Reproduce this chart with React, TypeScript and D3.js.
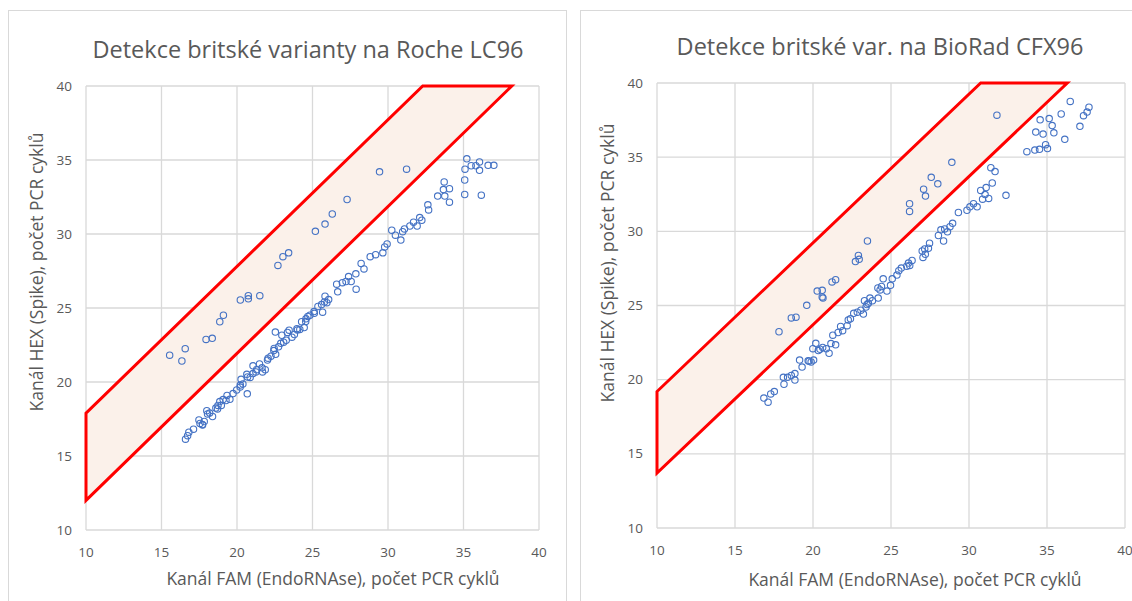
import React from "react";
import * as d3 from "d3";

// tick values shared by both charts
const xTicks = [10, 15, 20, 25, 30, 35, 40];
const yTicks = [10, 15, 20, 25, 30, 35, 40];

const xTitle = "Kanál FAM (EndoRNAse), počet PCR cyklů";
const yTitle = "Kanál HEX (Spike), počet PCR cyklů";

// Roche LC96: [FAM Ct, HEX Ct]
const rochePoints: [number, number][] = [
  [15.54, 21.81], [16.35, 21.42], [16.57, 22.25], [17.95, 22.88], [18.36, 22.95],
  [18.86, 24.07], [19.1, 24.51], [20.22, 25.54], [20.75, 25.83], [20.75, 25.62],
  [21.51, 25.83], [22.71, 27.88], [23.04, 28.47], [23.42, 28.73], [25.19, 30.18],
  [25.83, 30.67], [26.31, 31.35], [27.29, 32.33], [29.44, 34.2], [31.23, 34.38],
  [16.59, 16.14], [16.81, 16.61], [17.12, 16.81], [17.48, 17.44], [17.55, 17.2],
  [17.71, 17.12], [17.83, 17.33], [18.0, 18.06], [18.19, 17.9], [18.38, 17.67],
  [18.6, 18.24], [18.74, 18.42], [18.86, 18.68], [18.96, 18.42], [19.08, 18.81],
  [19.34, 19.09], [19.53, 18.83], [19.74, 19.22], [19.98, 19.46], [20.22, 19.79],
  [20.27, 20.18], [20.39, 19.87], [20.65, 20.52], [20.68, 19.2], [20.87, 20.31],
  [21.06, 21.09], [21.06, 20.57], [21.3, 20.83], [21.49, 21.22], [21.66, 20.96],
  [21.87, 20.83], [22.06, 21.61], [22.25, 21.74], [22.44, 22.12], [22.54, 23.37],
  [22.56, 21.87], [22.75, 22.38], [22.97, 23.16], [23.09, 22.69], [23.26, 22.82],
  [23.45, 23.5], [23.64, 23.03], [23.8, 23.21], [23.97, 23.6], [24.16, 23.55],
  [24.28, 24.07], [24.45, 23.68], [24.57, 24.27], [24.69, 24.43], [24.83, 24.51],
  [25.12, 24.64], [25.36, 25.1], [25.6, 25.23], [25.67, 24.72], [25.79, 25.41],
  [25.83, 25.8], [25.95, 25.36], [26.07, 25.57], [26.6, 26.61], [26.67, 26.09],
  [26.98, 26.71], [27.22, 26.79], [27.39, 27.12], [27.56, 26.79], [27.87, 27.31],
  [27.89, 26.27], [28.22, 28.01], [28.41, 27.64], [28.82, 28.47], [29.18, 28.6],
  [29.66, 28.73], [29.78, 29.12], [29.94, 29.33], [30.25, 30.26], [30.49, 29.92],
  [30.85, 29.59], [30.97, 30.16], [31.09, 30.34], [31.45, 30.54], [31.69, 30.8],
  [31.93, 30.54], [32.1, 31.11], [32.24, 30.93], [32.64, 31.97], [32.69, 31.63],
  [33.29, 32.56], [33.67, 33.0], [33.72, 33.52], [33.76, 32.56], [34.07, 33.06],
  [34.07, 32.15], [35.08, 33.65], [35.08, 32.67], [35.1, 34.38], [35.22, 35.08],
  [35.51, 34.61], [35.82, 34.61], [36.06, 34.87], [36.06, 34.3], [36.18, 32.62],
  [36.63, 34.64], [37.01, 34.64],
  [16.73, 16.37], [17.72, 17.1], [18.05, 17.84], [18.71, 18.18], [19.27, 18.75],
  [20.21, 19.66], [20.7, 20.34], [21.25, 20.68], [21.69, 20.68], [22.02, 21.48],
  [22.46, 22.27], [22.9, 22.61], [23.34, 23.35], [24.0, 23.52], [24.55, 24.08],
  [25.1, 24.76],
];

// BioRad CFX96: [FAM Ct, HEX Ct]
const bioradPoints: [number, number][] = [
  [17.82, 23.23], [18.61, 24.16], [18.91, 24.21], [19.6, 25.01], [20.27, 25.97],
  [20.59, 26.02], [20.59, 25.58], [20.64, 25.5], [21.22, 26.59], [21.45, 26.74],
  [22.72, 27.96], [22.91, 28.37], [22.96, 28.11], [23.49, 29.35], [26.19, 31.86],
  [26.19, 31.34], [27.09, 32.84], [27.21, 32.38], [27.58, 33.64], [28.0, 33.2],
  [28.9, 34.65], [31.79, 37.83],
  [16.85, 18.76], [17.12, 18.48], [17.29, 19.04], [17.52, 19.2], [18.1, 20.16],
  [18.14, 19.69], [18.37, 20.16], [18.61, 20.28], [18.84, 19.97], [18.84, 20.41],
  [19.14, 21.32], [19.3, 20.85], [19.69, 21.27], [19.88, 21.19], [20.04, 21.32],
  [19.99, 22.09], [20.18, 22.45], [20.34, 21.96], [20.62, 22.17], [20.85, 22.09],
  [21.03, 21.78], [21.15, 22.43], [21.27, 23.0], [21.45, 22.35], [21.61, 23.18],
  [21.77, 23.59], [22.19, 23.64], [22.26, 24.03], [22.61, 24.47], [22.84, 24.55],
  [23.07, 24.68], [23.23, 24.42], [23.3, 25.32], [23.46, 25.06], [23.65, 25.5],
  [23.81, 25.32], [24.18, 25.5], [24.16, 26.18], [24.39, 26.28], [24.5, 26.8],
  [24.74, 25.97], [24.97, 26.36], [25.08, 26.8], [25.38, 27.05], [25.66, 27.52],
  [26.01, 27.65], [26.12, 27.86], [26.35, 28.04], [27.05, 28.24], [27.0, 28.68],
  [27.16, 28.81], [27.4, 28.86], [27.47, 29.2], [28.04, 29.72], [28.2, 30.1],
  [28.37, 29.35], [28.44, 30.16], [28.62, 29.97], [28.78, 30.31], [28.95, 30.54],
  [29.32, 31.27], [29.87, 31.42], [30.06, 31.65], [30.29, 31.86], [30.52, 31.65],
  [30.75, 32.76], [30.87, 32.17], [31.03, 32.48], [31.1, 32.95], [31.26, 32.22],
  [31.4, 34.29], [31.49, 33.26], [31.67, 34.03], [32.37, 32.43], [33.71, 35.37],
  [34.22, 35.48], [34.28, 36.69], [34.52, 35.53], [34.56, 37.52], [34.75, 36.56],
  [34.91, 35.84], [35.03, 35.58], [35.14, 37.6], [35.33, 37.13], [35.44, 36.64],
  [35.91, 37.91], [36.14, 36.2], [36.49, 38.76], [37.11, 37.08], [37.34, 37.8],
  [37.57, 38.04], [37.69, 38.37],
  [19.75, 21.25], [20.45, 22.05], [21.9, 23.3], [22.4, 24.1], [23.4, 24.9],
  [23.55, 25.15], [24.3, 26.05], [25.5, 27.35], [26.2, 27.7], [27.2, 28.45],
];

// red acceptance band, polygon corners in data units
const rocheBand: [number, number][] = [[10, 12.0], [10, 17.9], [32.3, 40], [38.2, 40]];
const bioradBand: [number, number][] = [[10, 13.7], [10, 19.2], [30.75, 40], [36.3, 40]];

const FONT = "'Open Sans', 'Noto Sans', sans-serif";
const TXT = "#595959";

interface PanelProps {
  title: string;
  points: [number, number][];
  band: [number, number][];
  box: { x: number; y: number; w: number; h: number };
  plot: { left: number; right: number; top: number; bottom: number };
  titlePos: [number, number];
  xTitlePos: [number, number];
  yTitlePos: [number, number];
}

const Panel = ({ title, points, band, box, plot, titlePos, xTitlePos, yTitlePos }: PanelProps) => {
  const x = d3.scaleLinear().domain([10, 40]).range([plot.left, plot.right]);
  const y = d3.scaleLinear().domain([10, 40]).range([plot.bottom, plot.top]);
  const bandLine = d3
    .line<[number, number]>()
    .x((d) => x(d[0]))
    .y((d) => y(d[1]));

  return (
    <g>
      <rect x={box.x} y={box.y} width={box.w} height={box.h} fill="white" stroke="#D9D9D9" strokeWidth={1} />
      {xTicks.map((t) => (
        <line key={"gx" + t} x1={x(t)} x2={x(t)} y1={y(10)} y2={y(40)} stroke="#D9D9D9" strokeWidth={1.3} />
      ))}
      {yTicks.map((t) => (
        <line key={"gy" + t} x1={x(10)} x2={x(40)} y1={y(t)} y2={y(t)} stroke="#D9D9D9" strokeWidth={1.3} />
      ))}
      <path d={bandLine(band) + "Z"} fill="#FBF1EA" stroke="#FF0000" strokeWidth={3} strokeLinejoin="miter" />
      {points.map((p, i) => (
        <circle key={i} cx={x(p[0])} cy={y(p[1])} r={3.2} fill="none" stroke="#4472C4" strokeWidth={1.1} />
      ))}
      {xTicks.map((t) => (
        <text key={"tx" + t} x={x(t)} y={plot.bottom + 27} textAnchor="middle" fontSize={13.5} fill={TXT} fontFamily={FONT}>
          {t}
        </text>
      ))}
      {yTicks.map((t) => (
        <text key={"ty" + t} x={plot.left - 14} y={y(t) + 4.5} textAnchor="end" fontSize={13.5} fill={TXT} fontFamily={FONT}>
          {t}
        </text>
      ))}
      <text x={titlePos[0]} y={titlePos[1]} textAnchor="middle" fontSize={23.5} fill={TXT} fontFamily={FONT}>
        {title}
      </text>
      <text x={xTitlePos[0]} y={xTitlePos[1]} textAnchor="middle" fontSize={17.5} fill={TXT} fontFamily={FONT}>
        {xTitle}
      </text>
      <text
        transform={`translate(${yTitlePos[0]},${yTitlePos[1]}) rotate(-90)`}
        textAnchor="middle"
        fontSize={17.5}
        fill={TXT}
        fontFamily={FONT}
      >
        {yTitle}
      </text>
    </g>
  );
};

export default function App() {
  return (
    <svg
      width={1132}
      height={601}
      style={{ position: "absolute", left: 0, top: 0, background: "white" }}
    >
      <Panel
        title="Detekce britské varianty na Roche LC96"
        points={rochePoints}
        band={rocheBand}
        box={{ x: 8.5, y: 10.5, w: 558, h: 600 }}
        plot={{ left: 86, right: 539, top: 86, bottom: 530 }}
        titlePos={[308, 58]}
        xTitlePos={[333, 585]}
        yTitlePos={[43, 272]}
      />
      <Panel
        title="Detekce britské var. na BioRad CFX96"
        points={bioradPoints}
        band={bioradBand}
        box={{ x: 580.5, y: 10.5, w: 560, h: 600 }}
        plot={{ left: 657, right: 1125, top: 83, bottom: 528 }}
        titlePos={[880, 55]}
        xTitlePos={[915, 586]}
        yTitlePos={[614, 263]}
      />
    </svg>
  );
}
